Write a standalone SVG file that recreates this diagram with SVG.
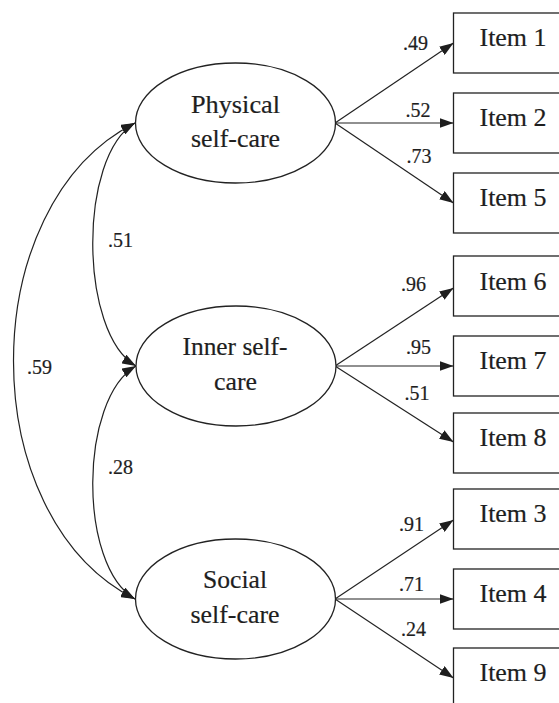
<svg xmlns="http://www.w3.org/2000/svg" width="559" height="703" viewBox="0 0 559 703">
<style>
text{font-family:"Liberation Serif","Times New Roman",serif;fill:#1e1e1e;stroke:#1e1e1e;stroke-width:0.2}
.el{fill:#fff;stroke:#222;stroke-width:1.3}
.bx{fill:#fff;stroke:#222;stroke-width:1.3}
.lbl{font-size:24.5px}
.coef{font-size:20px}
.ln{fill:none;stroke:#222;stroke-width:1.2}
.ar{marker-end:url(#ah)}
.dbl{marker-start:url(#ah);marker-end:url(#ah)}
</style>
<defs>
<marker id="ah" viewBox="0 0 14 10" refX="14" refY="5" markerWidth="14" markerHeight="10" markerUnits="userSpaceOnUse" orient="auto-start-reverse">
<path d="M0,0 L14,5 L0,10 Z" fill="#1e1e1e"/>
</marker>
</defs>
<rect width="559" height="703" fill="#fff"/>
<g id="connectors">
<path class="ln ar" d="M335,123 L453.5,43"/>
<path class="ln ar" d="M335,123 L453.5,123"/>
<path class="ln ar" d="M335,123 L453.5,203"/>
<path class="ln ar" d="M335,366 L453.5,288"/>
<path class="ln ar" d="M335,366 L453.5,366"/>
<path class="ln ar" d="M335,366 L453.5,442"/>
<path class="ln ar" d="M335,599 L453.5,520"/>
<path class="ln ar" d="M335,599 L453.5,599"/>
<path class="ln ar" d="M335,599 L453.5,678"/>
<path class="ln dbl" d="M135,123 C78,156 79,333 136,366"/>
<path class="ln dbl" d="M136,366 C79,399 78,566 135,599"/>
<path class="ln dbl" d="M135,123 C-27,205 -27,517 135,599"/>
<text class="coef" x="403" y="50">.49</text>
<text class="coef" x="405.5" y="117">.52</text>
<text class="coef" x="406.5" y="162.5">.73</text>
<text class="coef" x="401" y="290.5">.96</text>
<text class="coef" x="406" y="353.5">.95</text>
<text class="coef" x="404.5" y="400">.51</text>
<text class="coef" x="399" y="531">.91</text>
<text class="coef" x="399" y="591">.71</text>
<text class="coef" x="401" y="635.5">.24</text>
<text class="coef" x="108" y="246.5">.51</text>
<text class="coef" x="27" y="374">.59</text>
<text class="coef" x="108" y="474">.28</text>
</g>
<g id="physical">
<ellipse class="el" cx="235.5" cy="123" rx="100" ry="60"/>
<text class="lbl" x="235.5" y="113" text-anchor="middle" textLength="89" lengthAdjust="spacingAndGlyphs">Physical</text>
<text class="lbl" x="235.5" y="146.5" text-anchor="middle" textLength="89" lengthAdjust="spacingAndGlyphs">self-care</text>
</g>
<g id="inner">
<ellipse class="el" cx="236" cy="366" rx="100" ry="60"/>
<text class="lbl" x="235" y="355" text-anchor="middle" textLength="105" lengthAdjust="spacingAndGlyphs">Inner self-</text>
<text class="lbl" x="235.5" y="389.5" text-anchor="middle" textLength="43" lengthAdjust="spacingAndGlyphs">care</text>
</g>
<g id="social">
<ellipse class="el" cx="235.5" cy="599" rx="100" ry="60"/>
<text class="lbl" x="235" y="588" text-anchor="middle" textLength="64" lengthAdjust="spacingAndGlyphs">Social</text>
<text class="lbl" x="235" y="622.5" text-anchor="middle" textLength="89" lengthAdjust="spacingAndGlyphs">self-care</text>
</g>
<g id="item1"><rect class="bx" x="453.5" y="13" width="120" height="60"/><text class="lbl" x="479.5" y="46" textLength="67" lengthAdjust="spacingAndGlyphs">Item 1</text></g>
<g id="item2"><rect class="bx" x="453.5" y="93" width="120" height="60"/><text class="lbl" x="479.5" y="126" textLength="67" lengthAdjust="spacingAndGlyphs">Item 2</text></g>
<g id="item5"><rect class="bx" x="453.5" y="173" width="120" height="60"/><text class="lbl" x="479.5" y="206" textLength="67" lengthAdjust="spacingAndGlyphs">Item 5</text></g>
<g id="item6"><rect class="bx" x="453.5" y="256" width="120" height="60"/><text class="lbl" x="479.5" y="289.5" textLength="67" lengthAdjust="spacingAndGlyphs">Item 6</text></g>
<g id="item7"><rect class="bx" x="453.5" y="336" width="120" height="60"/><text class="lbl" x="479.5" y="369" textLength="67" lengthAdjust="spacingAndGlyphs">Item 7</text></g>
<g id="item8"><rect class="bx" x="453.5" y="413" width="120" height="60"/><text class="lbl" x="479.5" y="446" textLength="67" lengthAdjust="spacingAndGlyphs">Item 8</text></g>
<g id="item3"><rect class="bx" x="453.5" y="489" width="120" height="60"/><text class="lbl" x="479.5" y="522" textLength="67" lengthAdjust="spacingAndGlyphs">Item 3</text></g>
<g id="item4"><rect class="bx" x="453.5" y="569" width="120" height="60"/><text class="lbl" x="479.5" y="602" textLength="67" lengthAdjust="spacingAndGlyphs">Item 4</text></g>
<g id="item9"><rect class="bx" x="453.5" y="648" width="120" height="60"/><text class="lbl" x="479.5" y="681" textLength="67" lengthAdjust="spacingAndGlyphs">Item 9</text></g>
</svg>
